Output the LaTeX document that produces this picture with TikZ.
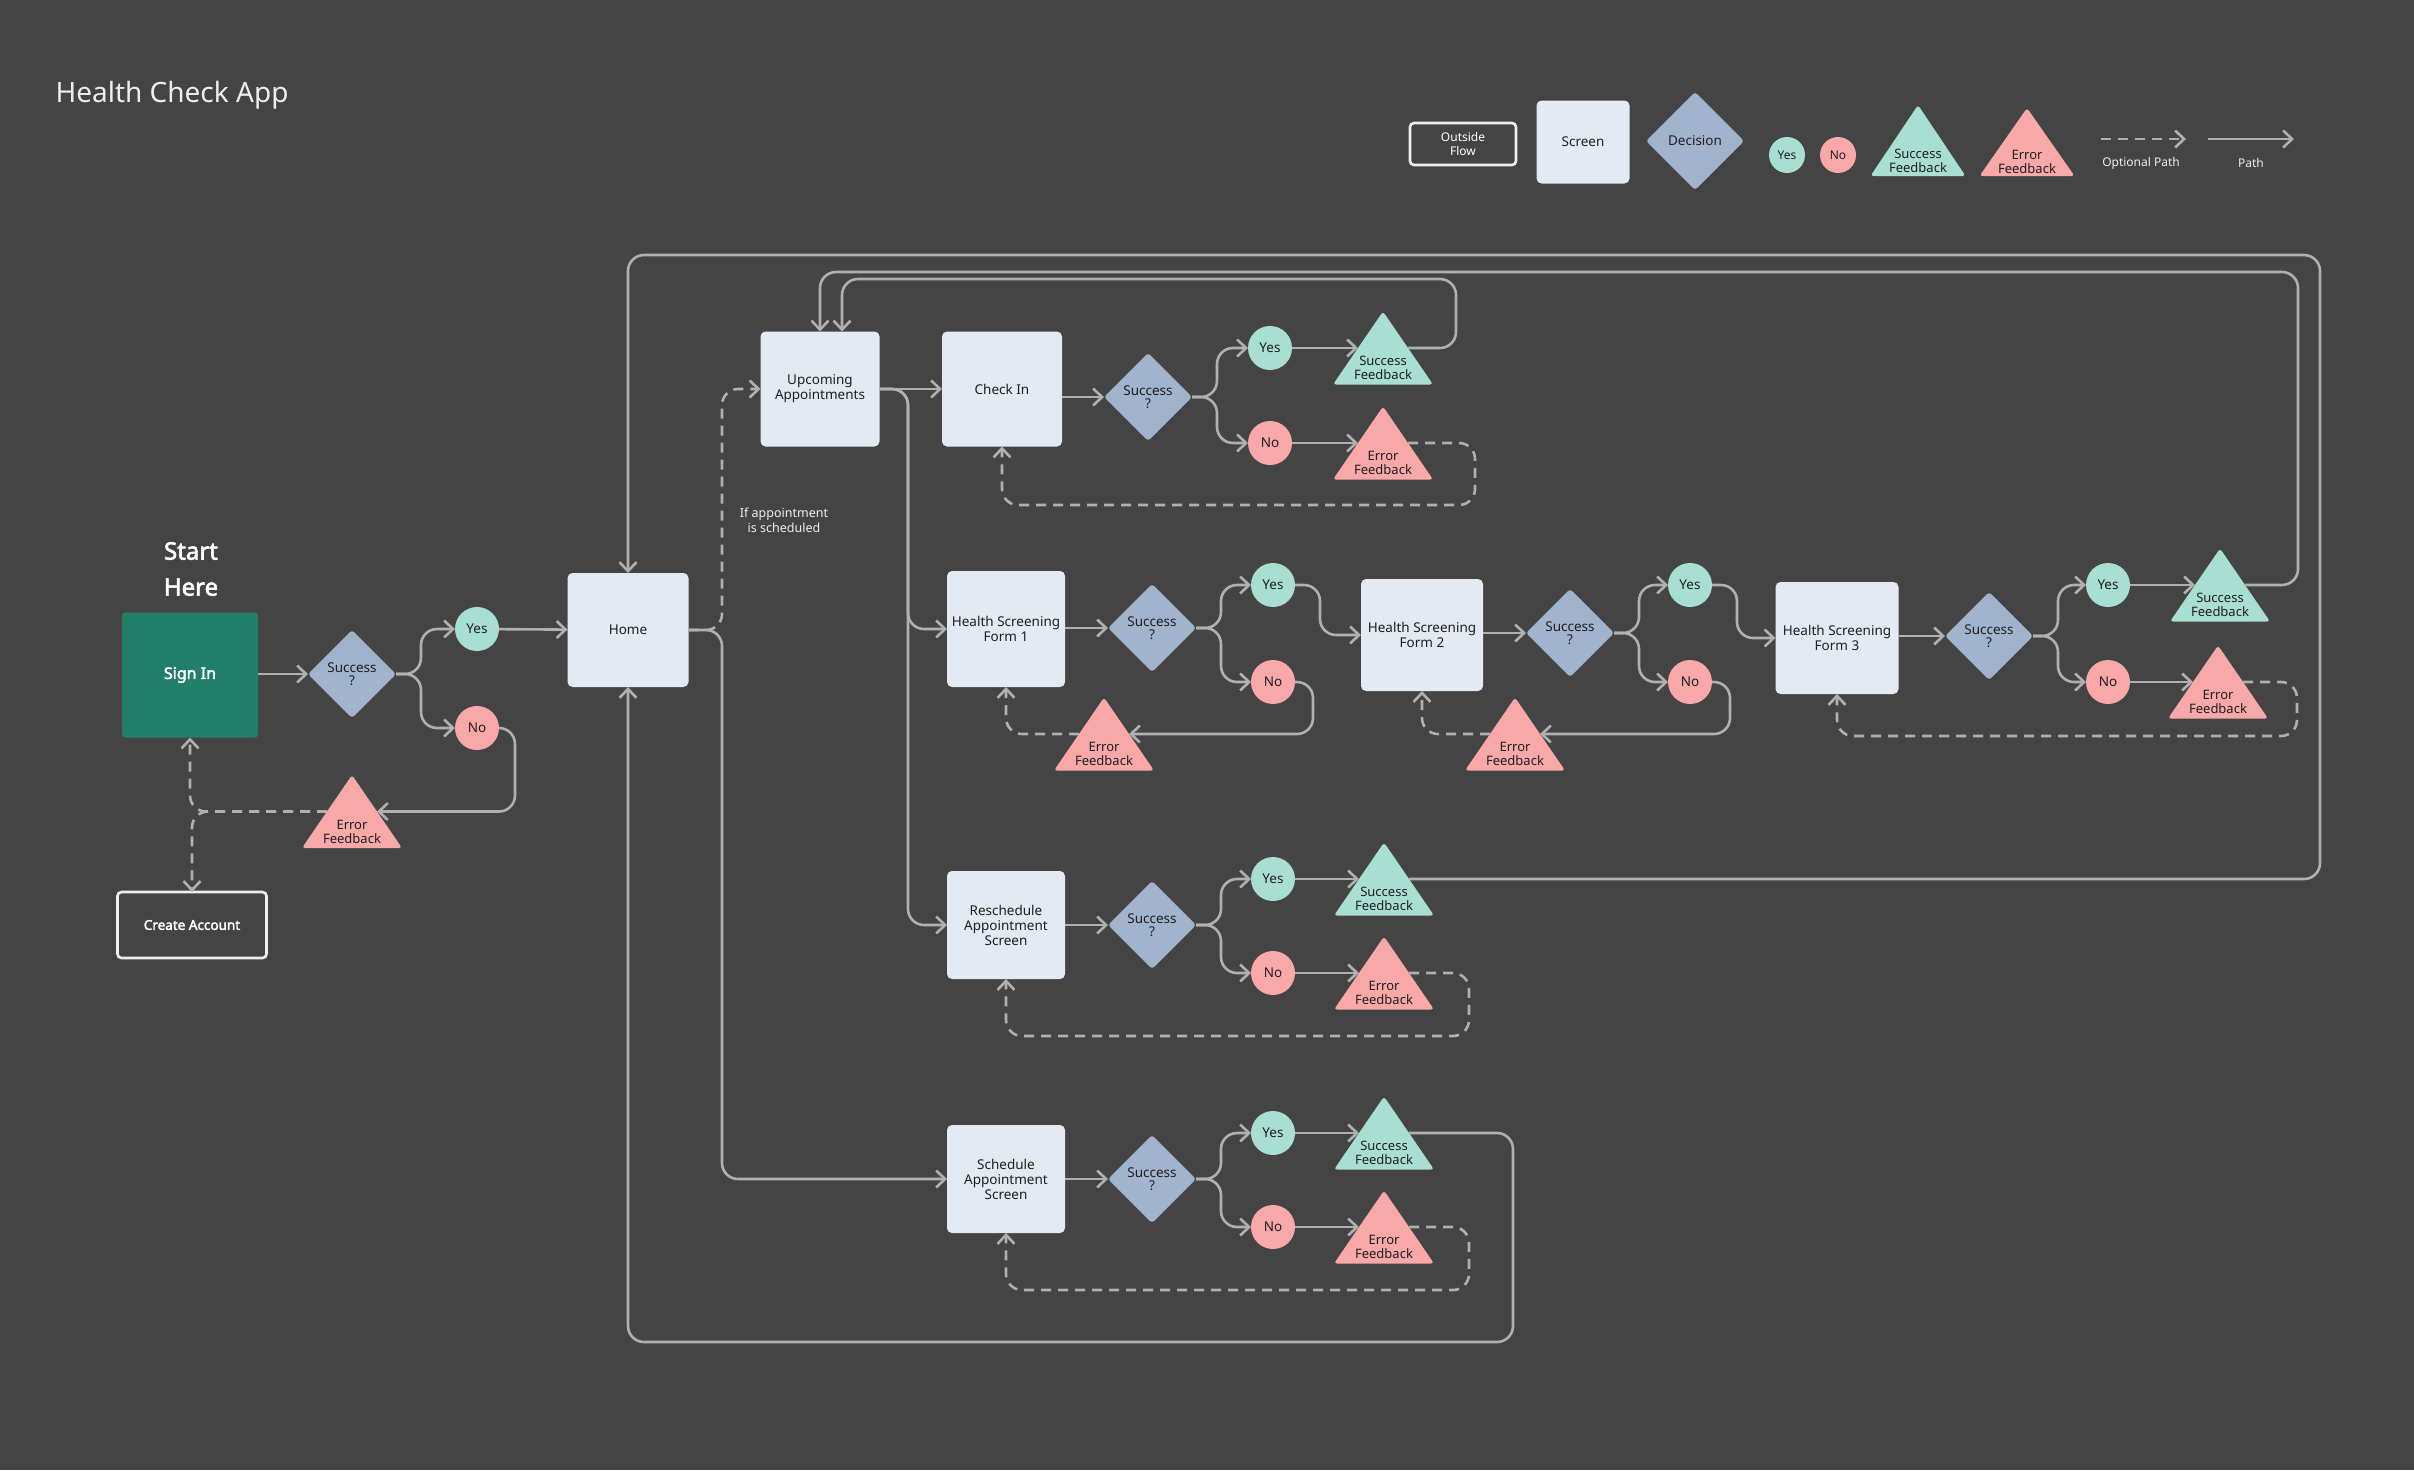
\documentclass[tikz,border=0pt]{standalone}
\usepackage{fontspec}
\setmainfont{Noto Sans}[AutoFakeBold=2.5]
\usepackage{tikz}
\usetikzlibrary{arrows.meta,shapes.geometric}
\definecolor{hcbg}{HTML}{444444}
\definecolor{hcscreen}{HTML}{E3EAF3}
\definecolor{hcdec}{HTML}{A2B3CD}
\definecolor{hcyes}{HTML}{A9DFD3}
\definecolor{hcno}{HTML}{F8A8A8}
\definecolor{hcsign}{HTML}{227F6B}
\definecolor{hcline}{HTML}{B0B0B0}
\definecolor{hcink}{HTML}{1F1F1F}
\definecolor{hcwhite}{HTML}{EEEEEE}

\begin{document}
\begin{tikzpicture}[x=1pt,y=-1pt,
  >={Straight Barb[length=9pt,width=17pt]},
  screen/.style={rectangle,rounded corners=5pt,fill=hcscreen,text=hcink,align=center,inner sep=2pt,outer sep=0pt,font=\fontsize{13.5}{15}\selectfont},
  outflow/.style={rectangle,rounded corners=4pt,draw=hcwhite,line width=2.6pt,fill=hcbg,text=white,align=center,inner sep=2pt,outer sep=0pt},
  decision/.style={diamond,aspect=1,rounded corners=3pt,fill=hcdec,text=hcink,align=center,inner sep=0pt,outer sep=0pt,minimum width=88pt,minimum height=88pt,font=\fontsize{13.5}{13.5}\selectfont},
  yesdot/.style={circle,fill=hcyes,text=hcink,inner sep=0pt,outer sep=0pt,minimum size=44pt,font=\fontsize{13.5}{15}\selectfont},
  nodot/.style={yesdot,fill=hcno},
  fbshape/.style={rectangle,inner sep=0pt,outer sep=0pt,minimum width=100pt,minimum height=73pt,
    path picture={\fill[#1,rounded corners=3pt] (path picture bounding box.south west) -- (path picture bounding box.south east) -- (path picture bounding box.north) -- cycle;}},
  fbtext/.style={yshift=-20pt,align=center,text=hcink,inner sep=0pt,font=\fontsize{13}{14}\selectfont},
  okfb/.style={fbshape=hcyes,label={[fbtext]center:Success\\Feedback}},
  errfb/.style={fbshape=hcno,label={[fbtext]center:Error\\Feedback}},
  flow/.style={draw=hcline,line width=2.6pt,->,rounded corners=16pt},
  optflow/.style={flow,dash pattern=on 10pt off 7pt},
  note/.style={text=hcwhite,align=center,font=\fontsize{12.5}{15}\selectfont}]

  \fill[hcbg] (0,0) rectangle (2414,1470);

  % legend
  \node[anchor=west,text=hcwhite,font=\fontsize{28}{34}\selectfont] (title) at (52,95) {Health Check App};
  \node[outflow,minimum width=106pt,minimum height=42pt,font=\fontsize{12}{14}\selectfont] (keyout) at (1463,144) {Outside\\Flow};
  \node[screen,minimum width=93pt,minimum height=83pt] (keyscreen) at (1583,142) {Screen};
  \node[decision,minimum width=98pt,minimum height=98pt] (keydec) at (1695,141) {Decision};
  \node[yesdot,minimum size=36pt,font=\fontsize{12}{14}\selectfont] (keyyes) at (1787,155) {Yes};
  \node[nodot,minimum size=36pt,font=\fontsize{12}{14}\selectfont] (keyno) at (1838,155) {No};
  \node[okfb,minimum width=95pt,minimum height=71pt] (keyok) at (1918,140.5) {};
  \node[errfb,minimum width=95pt,minimum height=68pt] (keyerr) at (2027,142) {};
  \coordinate (keyoptA) at (2101,139);
  \coordinate (keyoptB) at (2186,139);
  \coordinate (keypathA) at (2208,139);
  \coordinate (keypathB) at (2294,139);
  \node[note,font=\fontsize{12}{14}\selectfont] (keyopt) at (2141,163) {Optional Path};
  \node[note,font=\fontsize{12}{14}\selectfont] (keypath) at (2251,163) {Path};
  \draw[optflow] (keyoptA) -- (keyoptB);
  \draw[flow] (keypathA) -- (keypathB);

  % sign in
  \node[text=white,align=center,font=\fontsize{24}{36}\selectfont\bfseries] (start) at (191,569) {Start\\Here};
  \node[rectangle,rounded corners=3pt,fill=hcsign,text=white,outer sep=0pt,minimum width=136pt,minimum height=125pt,font=\fontsize{16}{18}\selectfont\bfseries] (signin) at (190,675) {Sign In};
  \node[decision] (sdec) at (352,674) {Success\\?};
  \node[yesdot] (syes) at (477,629) {Yes};
  \node[nodot] (sno) at (477,728) {No};
  \node[errfb] (serr) at (352,811.5) {};
  \node[outflow,minimum width=149pt,minimum height=66pt,font=\fontsize{13.5}{15}\selectfont\bfseries] (create) at (192,925) {Create Account};

  % hub
  \node[screen,minimum width=121pt,minimum height=114pt] (home) at (628,630) {Home};
  \node[screen,minimum width=119pt,minimum height=115pt] (upc) at (820,389) {Upcoming\\Appointments};
  \node[note] (ifnote) at (784,520) {If appointment\\is scheduled};
  \coordinate (homefork) at (722,630);
  \coordinate (upcfork) at (908,389);

  % check in
  \node[screen,minimum width=120pt,minimum height=115pt] (ci) at (1002,389) {Check In};
  \node[decision] (cidec) at (1148,397) {Success\\?};
  \node[yesdot] (ciyes) at (1270,348) {Yes};
  \node[nodot] (cino) at (1270,443) {No};
  \node[okfb] (ciok) at (1383,348) {};
  \node[errfb] (cierr) at (1383,443) {};

  % health screening forms
  \node[screen,minimum width=118pt,minimum height=116pt] (hs1) at (1006,629) {Health Screening\\Form 1};
  \node[decision] (hs1dec) at (1152,628) {Success\\?};
  \node[yesdot] (hs1yes) at (1273,585) {Yes};
  \node[nodot] (hs1no) at (1273,682) {No};
  \node[errfb] (hs1err) at (1104,734) {};
  \node[screen,minimum width=122pt,minimum height=112pt] (hs2) at (1422,635) {Health Screening\\Form 2};
  \node[decision] (hs2dec) at (1570,633) {Success\\?};
  \node[yesdot] (hs2yes) at (1690,585) {Yes};
  \node[nodot] (hs2no) at (1690,682) {No};
  \node[errfb] (hs2err) at (1515,734) {};
  \node[screen,minimum width=123pt,minimum height=112pt] (hs3) at (1837,638) {Health Screening\\Form 3};
  \node[decision] (hs3dec) at (1989,636) {Success\\?};
  \node[yesdot] (hs3yes) at (2108,585) {Yes};
  \node[nodot] (hs3no) at (2108,682) {No};
  \node[okfb] (hs3ok) at (2220,585) {};
  \node[errfb] (hs3err) at (2218,682) {};

  % reschedule
  \node[screen,minimum width=118pt,minimum height=108pt] (rs) at (1006,925) {Reschedule\\Appointment\\Screen};
  \node[decision] (rsdec) at (1152,925) {Success\\?};
  \node[yesdot] (rsyes) at (1273,879) {Yes};
  \node[nodot] (rsno) at (1273,973) {No};
  \node[okfb] (rsok) at (1384,879) {};
  \node[errfb] (rserr) at (1384,973) {};

  % schedule
  \node[screen,minimum width=118pt,minimum height=108pt] (sc) at (1006,1179) {Schedule\\Appointment\\Screen};
  \node[decision] (scdec) at (1152,1179) {Success\\?};
  \node[yesdot] (scyes) at (1273,1133) {Yes};
  \node[nodot] (scno) at (1273,1227) {No};
  \node[okfb] (scok) at (1384,1133) {};
  \node[errfb] (scerr) at (1384,1227) {};

  % sign in flow
  \draw[flow] (signin.east |- sdec) -- (sdec);
  \draw[flow] (sdec.east) -- ++(25,0) |- (syes);
  \draw[flow] (sdec.east) -- ++(25,0) |- (sno);
  \draw[flow] (syes) -- (home);
  \draw[flow] (sno.east) -- ++(16,0) |- ([xshift=-25pt]serr.east);
  \draw[optflow] ([xshift=25pt]serr.west) -| (signin.south);
  \draw[optflow] ([xshift=25pt]serr.west) -| (create.north);

  % hub flow
  \draw[optflow] (home.east) -- (homefork) |- (upc.west);
  \draw[flow] (home.east) -- (homefork) |- (sc.west);
  \draw[flow] (upc) -- (ci);
  \draw[flow] (upc.east) -- (upcfork) |- (hs1.west);
  \draw[flow] (upc.east) -- (upcfork) |- (rs.west);

  % check in flow
  \draw[flow] (ci.east |- cidec) -- (cidec);
  \draw[flow] (cidec.east) -- ++(25,0) |- (ciyes);
  \draw[flow] (cidec.east) -- ++(25,0) |- (cino);
  \draw[flow] (ciyes) -- ([xshift=25pt]ciok.west);
  \draw[flow] (cino) -- ([xshift=25pt]cierr.west);
  \draw[flow] ([xshift=-25pt]ciok.east) -| (1456,279) -| ([xshift=22pt]upc.north);
  \draw[optflow] ([xshift=-25pt]cierr.east) -| (1475,505) -| (ci.south);

  % health screening flow
  \draw[flow] (hs1.east |- hs1dec) -- (hs1dec);
  \draw[flow] (hs1dec.east) -- ++(25,0) |- (hs1yes);
  \draw[flow] (hs1dec.east) -- ++(25,0) |- (hs1no);
  \draw[flow] (hs1yes.east) -- ++(25,0) |- (hs2.west);
  \draw[flow] (hs1no.east) -- ++(18,0) |- ([xshift=-25pt]hs1err.east);
  \draw[optflow] ([xshift=25pt]hs1err.west) -| (hs1.south);
  \draw[flow] (hs2.east |- hs2dec) -- (hs2dec);
  \draw[flow] (hs2dec.east) -- ++(25,0) |- (hs2yes);
  \draw[flow] (hs2dec.east) -- ++(25,0) |- (hs2no);
  \draw[flow] (hs2yes.east) -- ++(25,0) |- (hs3.west);
  \draw[flow] (hs2no.east) -- ++(18,0) |- ([xshift=-25pt]hs2err.east);
  \draw[optflow] ([xshift=25pt]hs2err.west) -| (hs2.south);
  \draw[flow] (hs3.east |- hs3dec) -- (hs3dec);
  \draw[flow] (hs3dec.east) -- ++(25,0) |- (hs3yes);
  \draw[flow] (hs3dec.east) -- ++(25,0) |- (hs3no);
  \draw[flow] (hs3yes) -- ([xshift=25pt]hs3ok.west);
  \draw[flow] (hs3no) -- ([xshift=25pt]hs3err.west);
  \draw[flow] ([xshift=-25pt]hs3ok.east) -| (2298,272) -| (upc.north);
  \draw[optflow] ([xshift=-25pt]hs3err.east) -| (2297,736) -| (hs3.south);

  % reschedule flow
  \draw[flow] (rs) -- (rsdec);
  \draw[flow] (rsdec.east) -- ++(25,0) |- (rsyes);
  \draw[flow] (rsdec.east) -- ++(25,0) |- (rsno);
  \draw[flow] (rsyes) -- ([xshift=25pt]rsok.west);
  \draw[flow] (rsno) -- ([xshift=25pt]rserr.west);
  \draw[flow] ([xshift=-25pt]rsok.east) -| (2320,255) -| (home.north);
  \draw[optflow] ([xshift=-25pt]rserr.east) -| (1469,1036) -| (rs.south);

  % schedule flow
  \draw[flow] (sc) -- (scdec);
  \draw[flow] (scdec.east) -- ++(25,0) |- (scyes);
  \draw[flow] (scdec.east) -- ++(25,0) |- (scno);
  \draw[flow] (scyes) -- ([xshift=25pt]scok.west);
  \draw[flow] (scno) -- ([xshift=25pt]scerr.west);
  \draw[flow] ([xshift=-25pt]scok.east) -| (1513,1342) -| (home.south);
  \draw[optflow] ([xshift=-25pt]scerr.east) -| (1469,1290) -| (sc.south);
\end{tikzpicture}
\end{document}
